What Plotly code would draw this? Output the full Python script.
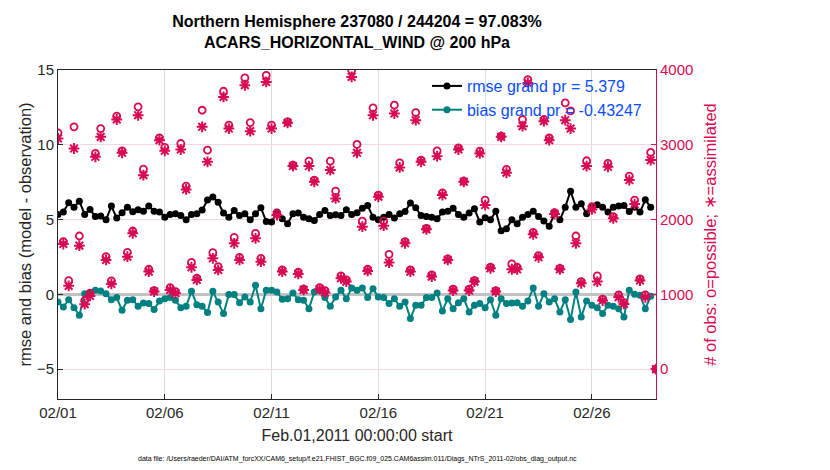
import pandas as pd
import plotly.graph_objects as go

# 6-hourly bins, Feb 01 2011 00Z .. Mar 01 2011 00Z
times = pd.date_range('2011-02-01 00:00', periods=113, freq='6h')

rmse = [
    5.34, 5.50, 6.12, 5.83, 6.23, 5.34, 5.67, 5.21, 5.23, 4.98,
    5.90, 5.10, 5.45, 5.83, 5.52, 5.65, 5.56, 5.90, 5.56, 5.50,
    5.16, 5.34, 5.38, 5.27, 4.98, 5.34, 5.38, 5.63, 6.30, 6.50,
    6.16, 5.43, 5.16, 5.61, 5.27, 5.38, 4.98, 5.38, 5.79, 4.87,
    4.83, 5.50, 5.05, 4.72, 5.38, 5.43, 5.16, 5.05, 4.94, 5.34,
    5.61, 5.27, 5.32, 5.27, 5.65, 5.34, 5.45, 5.76, 5.94, 5.16,
    4.98, 5.16, 5.34, 5.10, 5.38, 5.54, 6.10, 5.79, 5.27, 5.21,
    5.16, 5.05, 5.50, 5.56, 5.76, 5.34, 5.16, 5.43, 5.72, 4.83,
    5.12, 4.98, 5.56, 4.25, 4.38, 4.98, 4.72, 5.16, 5.34, 5.56,
    5.21, 4.90, 4.56, 5.38, 4.98, 5.83, 6.90, 5.83, 6.05, 5.38,
    5.83, 5.99, 5.83, 5.50, 5.83, 5.90, 5.94, 5.54, 5.83, 5.50,
    6.32, 5.83, None,
]

bias = [
    -0.51, -0.85, -0.36, -0.89, -1.40, 0.04, 0.09, 0.27, 0.22, 0.04,
    -0.36, -0.22, -1.07, -0.40, -0.36, -0.80, -0.58, -0.62, -1.02, -0.45,
    -0.29, -0.22, -0.40, -0.89, -0.80, 0.20, -0.69, -0.80, -1.22, 0.20,
    -0.51, -1.29, -0.02, -0.02, -0.56, -0.18, -0.51, 0.60, -0.96, 0.27,
    0.27, 0.16, -0.33, -0.29, 0.09, -0.36, -0.40, -0.96, 0.16, 0.27,
    -0.22, -0.80, -0.18, 0.27, -0.29, 0.42, 0.27, 0.42, -0.22, 0.38,
    -0.18, -0.22, -0.62, -0.29, -0.80, -0.51, -1.62, -0.73, -0.73, -0.22,
    -0.22, 0.09, -1.11, -0.29, -0.96, -0.56, -0.29, -1.18, -0.73, -0.62,
    -0.89, -0.36, -1.40, -0.29, -0.62, -0.58, -0.56, -0.80, -0.45, 0.42,
    -0.80, 0.04, -0.51, -0.29, -1.18, -0.36, -1.69, 0.16, -1.51, -0.45,
    -0.73, -0.89, -1.29, -0.73, -0.80, -0.96, -1.51, 0.27, 0.00, -0.07,
    -0.96, -0.13, None,
]

n_possible = [
    3160, 1704, 1184, 3240, 1780, 917, 1015, 2884, 3217, 1504,
    1179, 3382, 2919, 1562, 1847, 3507, 2674, 1335, 1050, 3093,
    2964, 1090, 1037, 3017, 2448, 1428, 1215, 3462, 2928, 1558,
    1371, 3716, 3262, 1762, 1495, 3894, 3297, 1816, 1482, 3929,
    3262, 2083, 1326, 3306, 2728, 1295, 1068, 2781, 2528, 1090,
    1050, 2781, 2381, 1246, 1193, 3996, 3004, 1980, 1335, 3493,
    2327, 1980, 1535, 3529, 2759, 1704, 1326, 3431, 2795, 1882,
    1259, 2919, 2358, 1473, 1068, 2959, 2514, 1068, 1184, 2915,
    2261, 1362, 1046, 3115, 2670, 1406, 1362, 3338, 3872, 1829,
    1517, 3338, 3093, 2092, 1348, 3560, 3453, 1780, 1170, 2786,
    2172, 1246, 935, 2750, 2038, 992, 890, 2581, 2261, 1206,
    992, 2897, 0,
]

n_assimilated = [
    3084, 1673, 1113, 2950, 1651, 868, 979, 2839, 3106, 1460,
    1139, 3338, 2893, 1504, 1816, 3395, 2594, 1304, 1037, 3062,
    2919, 1059, 1015, 2937, 2403, 1362, 1193, 3240, 2772, 1482,
    1326, 3640, 3217, 1682, 1460, 3796, 3182, 1749, 1437, 3840,
    3217, 2060, 1304, 3293, 2715, 1273, 1059, 2715, 2505, 1068,
    1024, 2661, 2283, 1215, 1170, 3907, 2893, 1905, 1313, 3395,
    2305, 1918, 1424, 3418, 2697, 1682, 1304, 3329, 2772, 1869,
    1237, 2848, 2327, 1460, 1050, 2937, 2505, 1050, 1170, 2884,
    2194, 1348, 1037, 3106, 2626, 1335, 1335, 3249, 3827, 1802,
    1495, 3315, 3062, 2074, 1335, 3329, 3217, 1682, 1148, 2715,
    2136, 1170, 917, 2706, 2016, 961, 872, 2528, 2207, 1184,
    961, 2795, 0,
]

title_text = ('<b>Northern Hemisphere 237080 / 244204 = 97.083%<br>'
              'ACARS_HORIZONTAL_WIND @ 200 hPa</b>')
data_file = ('data file: /Users/raeder/DAI/ATM_forcXX/CAM6_setup/'
             'f.e21.FHIST_BGC.f09_025.CAM6assim.011/Diags_NTrS_2011-02/obs_diag_output.nc')

pink = '#D70A53'
teal = '#008080'
font = 'Liberation Sans, Arial, Helvetica, sans-serif'

fig = go.Figure()

fig.add_trace(go.Scatter(
    x=times, y=rmse, mode='lines+markers', name='rmse grand pr = 5.379',
    line=dict(color='black', width=2), marker=dict(color='black', size=7),
))
fig.add_trace(go.Scatter(
    x=times, y=bias, mode='lines+markers', name='bias grand pr = -0.43247',
    line=dict(color=teal, width=2), marker=dict(color=teal, size=7),
))

# obs counts on the right axis
fig.add_trace(go.Scatter(
    x=times, y=n_possible, mode='markers', yaxis='y2', showlegend=False,
    marker=dict(symbol='circle-open', color=pink, size=7, line=dict(width=1.8, color=pink)),
))
fig.add_trace(go.Scatter(
    x=times, y=n_assimilated, mode='markers', yaxis='y2', showlegend=False,
    marker=dict(symbol='asterisk-open', color=pink, size=9, line=dict(width=2, color=pink)),
))

fig.update_layout(
    width=830, height=470,
    margin=dict(l=58, r=174, t=70, b=71),
    plot_bgcolor='white', paper_bgcolor='white',
    font=dict(family=font, size=15, color='#262626'),
    title=dict(text=title_text, x=(58 + 656) / 2 / 830, xanchor='center',
               xref='container', yref='container',
               y=1 - 27 / 470, yanchor='top', font=dict(size=16, color='black')),
    xaxis=dict(
        range=['2011-02-01 00:00', '2011-03-01 00:00'],
        tick0='2011-02-01', dtick=5 * 86400000, tickformat='%m/%d',
        showgrid=True, gridcolor='#dcdcdc', gridwidth=1,
        showline=True, linecolor='#262626', linewidth=1, mirror=True,
        ticks='inside', ticklen=5, tickcolor='#262626',
        title=dict(text='Feb.01,2011 00:00:00 start', standoff=9, font=dict(size=16)),
    ),
    yaxis=dict(
        range=[-7, 15], tickvals=[-5, 0, 5, 10, 15],
        showgrid=False, zeroline=True, zerolinecolor='#c2c2c2', zerolinewidth=3,
        showline=True, linecolor='#262626', linewidth=1,
        ticks='inside', ticklen=5, tickcolor='#262626',
        title=dict(text='rmse and bias (model - observation)', standoff=1, font=dict(size=16.5)),
    ),
    yaxis2=dict(
        range=[-400, 4000], tickvals=[0, 1000, 2000, 3000, 4000],
        overlaying='y', side='right',
        showgrid=True, gridcolor='#f6d7e1', gridwidth=1, zeroline=False,
        showline=True, linecolor=pink, linewidth=1,
        ticks='inside', ticklen=5, tickcolor=pink,
        tickfont=dict(color=pink),
        title=dict(text='# of obs: o=possible; \u2217=assimilated',
                   font=dict(color=pink, size=16.5), standoff=12),
    ),
    legend=dict(
        x=0.617, y=1.003, xanchor='left', yanchor='top',
        bgcolor='rgba(0,0,0,0)', font=dict(color='#0a4dff', size=16),
        tracegroupgap=0, itemwidth=30,
    ),
    showlegend=True,
)

fig.add_annotation(
    text=data_file, xref='paper', yref='paper', x=0.5, y=-0.165,
    xanchor='center', yanchor='top', showarrow=False,
    font=dict(size=7, color='black'),
)

# page body margin off so the figure sits at the window's corner
fig.write_html("out.html", config={'displayModeBar': False},
               post_script="document.body.style.margin = '0';")
